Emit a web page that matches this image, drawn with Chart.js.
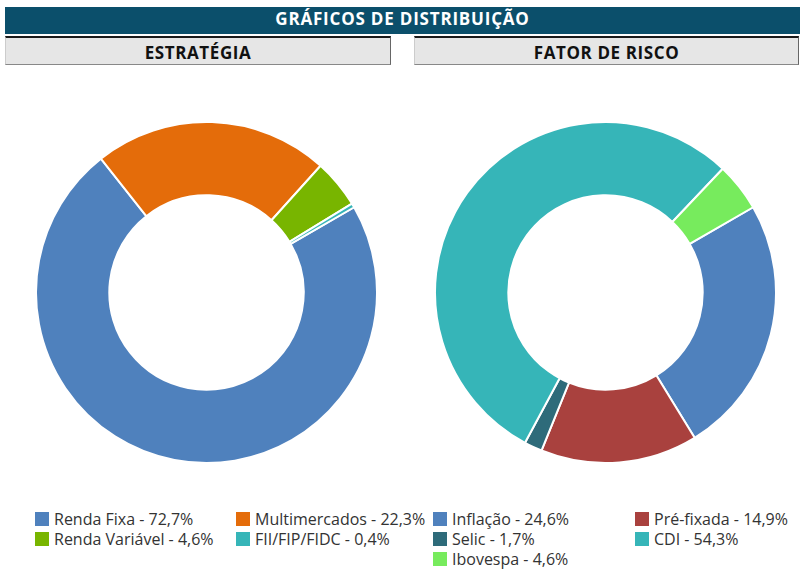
<!DOCTYPE html>
<html lang="pt-BR">
<head>
<meta charset="utf-8">
<script src="https://cdn.jsdelivr.net/npm/chart.js@4"></script>
<style>
  html, body { margin: 0; padding: 0; background: #fff; }
  body { width: 803px; height: 573px; position: relative; overflow: hidden; font-family: "Open Sans", sans-serif; }
  .banner {
    position: absolute; left: 5px; top: 7px; width: 795px; height: 27px;
    background: #0b4f6b; color: #fff; font-weight: 700; font-size: 17px;
    letter-spacing: 0.8px; line-height: 24px; text-align: center;
  }
  .head {
    position: absolute; top: 36px; height: 26px; box-sizing: content-box;
    background: #e6e6e6; color: #111; font-weight: 700; font-size: 17px;
    letter-spacing: 0.6px; line-height: 29px; text-align: center;
    border-top: 2px solid #1a1a1a; border-right: 1px solid #666; border-bottom: 1px solid #888; border-left: 1px solid #ccc;
  }
  .chart-box { position: absolute; top: 121px; width: 343px; height: 343px; }
  .legend { position: absolute; top: 509px; font-size: 16px; color: #333; }
  .item { position: absolute; white-space: nowrap; height: 20px; line-height: 20px; }
  .item i { position: absolute; left: 0; top: 3px; width: 14px; height: 14px; }
  .item span { position: absolute; left: 19px; top: 0; }
</style>
</head>
<body>
<div class="banner">GRÁFICOS DE DISTRIBUIÇÃO</div>
<div class="head" style="left:5px; width:384px;">ESTRATÉGIA</div>
<div class="head" style="left:414px; width:383px;">FATOR DE RISCO</div>

<div class="chart-box" style="left:35px;"><canvas id="estrategiaChart"></canvas></div>
<div class="chart-box" style="left:434px;"><canvas id="fatorChart"></canvas></div>

<div class="legend" id="estrategiaLegend" style="left:35px;"></div>
<div class="legend" id="fatorLegend" style="left:433px;"></div>

<script>
// ---- Estratégia ----
const estrategiaLabels = ['Renda Fixa', 'Multimercados', 'Renda Variável', 'FII/FIP/FIDC'];
const estrategiaValues = [72.7, 22.3, 4.6, 0.4];
const estrategiaColors = ['#4f81bd', '#e46c0a', '#78b500', '#36b5b8'];

// ---- Fator de risco ----
const fatorLabels = ['Inflação', 'Pré-fixada', 'Selic', 'CDI', 'Ibovespa'];
const fatorValues = [24.6, 14.9, 1.7, 54.3, 4.6];
const fatorColors = ['#4f81bd', '#a9413e', '#2e6b7a', '#36b5b8', '#77eb5d'];

const fmt = v => v.toFixed(1).replace('.', ',') + '%';

function buildDoughnut(id, labels, values, colors) {
  const ctx = document.getElementById(id).getContext('2d');
  return new Chart(ctx, {
    type: 'doughnut',
    data: {
      labels: labels,
      datasets: [{
        data: values,
        backgroundColor: colors,
        borderColor: '#ffffff',
        borderWidth: 2
      }]
    },
    options: {
      responsive: true,
      maintainAspectRatio: false,
      animation: false,
      cutout: '57%',
      rotation: 60,
      events: [],
      plugins: {
        legend: { display: false },
        tooltip: { enabled: false }
      }
    }
  });
}

// legend in two columns, rows of 20px
function buildLegend(id, labels, values, colors, colX) {
  const box = document.getElementById(id);
  labels.forEach((label, i) => {
    const item = document.createElement('div');
    item.className = 'item';
    item.style.left = colX[i % 2] + 'px';
    item.style.top = (Math.floor(i / 2) * 20) + 'px';
    const sw = document.createElement('i');
    sw.style.background = colors[i];
    const txt = document.createElement('span');
    txt.textContent = `${label} - ${fmt(values[i])}`;
    item.appendChild(sw);
    item.appendChild(txt);
    box.appendChild(item);
  });
}

buildDoughnut('estrategiaChart', estrategiaLabels, estrategiaValues, estrategiaColors);
buildDoughnut('fatorChart', fatorLabels, fatorValues, fatorColors);
buildLegend('estrategiaLegend', estrategiaLabels, estrategiaValues, estrategiaColors, [0, 201]);
buildLegend('fatorLegend', fatorLabels, fatorValues, fatorColors, [0, 202]);
</script>
</body>
</html>
